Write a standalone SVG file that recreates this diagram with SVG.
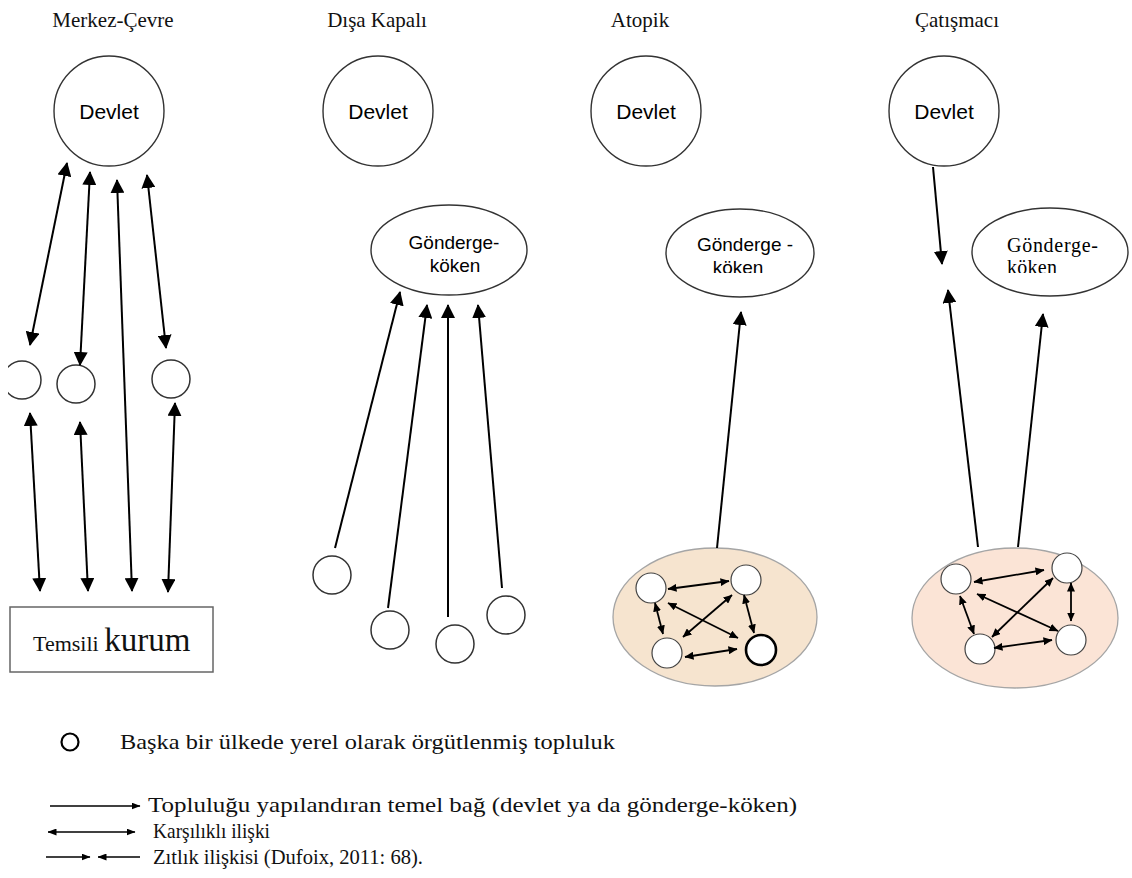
<svg xmlns="http://www.w3.org/2000/svg" width="1132" height="878" viewBox="0 0 1132 878">
<style>
.title{font-family:"Liberation Serif",serif;font-size:21px;fill:#111;text-anchor:middle}
.dev{font-family:"Liberation Sans",Arial,sans-serif;font-size:21px;fill:#000;text-anchor:middle}
.gk{font-family:"Liberation Sans",Arial,sans-serif;font-size:19px;fill:#000;text-anchor:middle}
.gks{font-family:"Liberation Serif",serif;font-size:20px;fill:#000}
.leg{font-family:"Liberation Serif",serif;font-size:21px;fill:#111}
.node{fill:#fff;stroke:#333;stroke-width:1.4}
.sn{fill:#fff;stroke:#333;stroke-width:1.5}
.cn{fill:#fff;stroke:#444;stroke-width:1.2}
.big{stroke:#000;stroke-width:2;fill:none}
.sm{stroke:#000;stroke-width:1.8;fill:none}
.lg{stroke:#000;stroke-width:1.6;fill:none}
</style>
<defs>
<marker id="ah" viewBox="0 0 14 14" refX="13" refY="7" markerWidth="14" markerHeight="14" markerUnits="userSpaceOnUse" orient="auto-start-reverse"><path d="M0,0 L14,7 L0,14 z" fill="#000"/></marker>
<marker id="as" viewBox="0 0 9 8" refX="8.5" refY="4" markerWidth="9" markerHeight="8" markerUnits="userSpaceOnUse" orient="auto-start-reverse"><path d="M0,0 L9,4 L0,8 z" fill="#000"/></marker>
<marker id="al" viewBox="0 0 9 7" refX="8.5" refY="3.5" markerWidth="9" markerHeight="7" markerUnits="userSpaceOnUse" orient="auto-start-reverse"><path d="M0,0 L9,3.5 L0,7 z" fill="#000"/></marker>
<clipPath id="clipL"><rect x="8" y="340" width="60" height="80"/></clipPath>
<clipPath id="clipT2"><rect x="370" y="200" width="160" height="72"/></clipPath>
<clipPath id="clipT3"><rect x="660" y="200" width="170" height="73"/></clipPath>
<clipPath id="clipT4"><rect x="970" y="200" width="160" height="73"/></clipPath>
</defs>

<g id="titles">
<text class="title" x="113" y="27">Merkez-Çevre</text>
<text class="title" x="377" y="27">Dışa Kapalı</text>
<text class="title" x="640" y="27">Atopik</text>
<text class="title" x="957" y="27">Çatışmacı</text>
</g>

<g id="devlet1"><circle class="node" cx="109" cy="111" r="55"/><text class="dev" x="109" y="119">Devlet</text></g>
<g id="devlet2"><circle class="node" cx="378" cy="111" r="55"/><text class="dev" x="378" y="119">Devlet</text></g>
<g id="devlet3"><circle class="node" cx="646" cy="111" r="55"/><text class="dev" x="646" y="119">Devlet</text></g>
<g id="devlet4"><circle class="node" cx="944" cy="111" r="55"/><text class="dev" x="944" y="119">Devlet</text></g>

<g id="gonderge2"><ellipse class="node" cx="449" cy="250" rx="78" ry="45"/>
<g clip-path="url(#clipT2)"><text class="gk" x="454" y="249">Gönderge-</text><text class="gk" x="455" y="272">köken</text></g></g>
<g id="gonderge3"><ellipse class="node" cx="740" cy="253" rx="74" ry="44"/>
<g clip-path="url(#clipT3)"><text class="gk" x="745" y="251">Gönderge -</text><text class="gk" x="738" y="274">köken</text></g></g>
<g id="gonderge4"><ellipse class="node" cx="1050" cy="252" rx="78" ry="44"/>
<g clip-path="url(#clipT4)"><text class="gks" x="1007" y="252" textLength="91">Gönderge-</text><text class="gks" x="1007" y="274" textLength="50">köken</text></g></g>

<g id="merkez-nodes">
<circle class="sn" cx="22" cy="380" r="19" clip-path="url(#clipL)"/>
<circle class="sn" cx="76" cy="384" r="19"/>
<circle class="sn" cx="171" cy="379" r="19"/>
</g>
<g id="temsili">
<rect x="10" y="607" width="203" height="65" fill="#fff" stroke="#666" stroke-width="1.5"/>
<text x="33" y="651" font-family="Liberation Serif,serif" fill="#111"><tspan font-size="22">Temsili </tspan><tspan font-size="33">kurum</tspan></text>
</g>

<g id="disa-nodes">
<circle class="sn" cx="332" cy="575" r="19"/>
<circle class="sn" cx="390" cy="630" r="19"/>
<circle class="sn" cx="455" cy="644" r="19"/>
<circle class="sn" cx="506" cy="615" r="19"/>
</g>

<g id="atopik-cluster">
<ellipse cx="715" cy="617" rx="102" ry="69" fill="#f6e4cf" stroke="#a5a5a5" stroke-width="1.3"/>
<circle class="cn" cx="651" cy="588" r="15"/>
<circle class="cn" cx="746" cy="580" r="15"/>
<circle class="cn" cx="667" cy="653" r="15"/>
<circle cx="761" cy="650" r="15" fill="#fff" stroke="#000" stroke-width="2.6"/>
</g>

<g id="catis-cluster">
<ellipse cx="1015" cy="618" rx="103" ry="70" fill="#fbe4d6" stroke="#a5a5a5" stroke-width="1.3"/>
<circle class="cn" cx="956" cy="579" r="15"/>
<circle class="cn" cx="1067" cy="568" r="15"/>
<circle class="cn" cx="980" cy="649" r="15"/>
<circle class="cn" cx="1071" cy="640" r="15"/>
</g>

<g id="connectors">
<line class="big" x1="67" y1="163" x2="30" y2="345" marker-start="url(#ah)" marker-end="url(#ah)"/>
<line class="big" x1="90" y1="172" x2="80" y2="365" marker-start="url(#ah)" marker-end="url(#ah)"/>
<line class="big" x1="117" y1="180" x2="132" y2="591" marker-start="url(#ah)" marker-end="url(#ah)"/>
<line class="big" x1="147" y1="175" x2="166" y2="348" marker-start="url(#ah)" marker-end="url(#ah)"/>
<line class="big" x1="30" y1="413" x2="40" y2="591" marker-start="url(#ah)" marker-end="url(#ah)"/>
<line class="big" x1="80" y1="422" x2="88" y2="591" marker-start="url(#ah)" marker-end="url(#ah)"/>
<line class="big" x1="175" y1="403" x2="168" y2="592" marker-start="url(#ah)" marker-end="url(#ah)"/>
<line class="big" x1="335" y1="548" x2="400" y2="292" marker-end="url(#ah)"/>
<line class="big" x1="388" y1="608" x2="427" y2="305" marker-end="url(#ah)"/>
<line class="big" x1="448" y1="617" x2="448" y2="305" marker-end="url(#ah)"/>
<line class="big" x1="502" y1="588" x2="478" y2="305" marker-end="url(#ah)"/>
<line class="big" x1="717" y1="548" x2="741" y2="312" marker-end="url(#ah)"/>
<line class="sm" x1="668" y1="589" x2="729" y2="581" marker-start="url(#as)" marker-end="url(#as)"/>
<line class="sm" x1="655" y1="603" x2="663" y2="634" marker-start="url(#as)" marker-end="url(#as)"/>
<line class="sm" x1="744" y1="595" x2="754" y2="633" marker-start="url(#as)" marker-end="url(#as)"/>
<line class="sm" x1="685" y1="657" x2="737" y2="649" marker-start="url(#as)" marker-end="url(#as)"/>
<line class="sm" x1="668" y1="603" x2="738" y2="638" marker-start="url(#as)" marker-end="url(#as)"/>
<line class="sm" x1="732" y1="595" x2="683" y2="637" marker-start="url(#as)" marker-end="url(#as)"/>
<line class="big" x1="933" y1="167" x2="942" y2="264" marker-end="url(#ah)"/>
<line class="big" x1="978" y1="547" x2="948" y2="290" marker-end="url(#ah)"/>
<line class="big" x1="1018" y1="547" x2="1043" y2="314" marker-end="url(#ah)"/>
<line class="sm" x1="974" y1="582" x2="1044" y2="570" marker-start="url(#as)" marker-end="url(#as)"/>
<line class="sm" x1="960" y1="596" x2="974" y2="634" marker-start="url(#as)" marker-end="url(#as)"/>
<line class="sm" x1="1071" y1="583" x2="1071" y2="621" marker-start="url(#as)" marker-end="url(#as)"/>
<line class="sm" x1="994" y1="648" x2="1052" y2="640" marker-start="url(#as)" marker-end="url(#as)"/>
<line class="sm" x1="977" y1="594" x2="1058" y2="631" marker-start="url(#as)" marker-end="url(#as)"/>
<line class="sm" x1="1053" y1="578" x2="992" y2="637" marker-start="url(#as)" marker-end="url(#as)"/>
</g>

<g id="legend">
<circle cx="70" cy="742" r="8.5" fill="#fff" stroke="#000" stroke-width="2.2"/>
<text class="leg" x="120" y="749" textLength="495" lengthAdjust="spacingAndGlyphs">Başka bir ülkede yerel olarak örgütlenmiş topluluk</text>
<line class="lg" x1="50" y1="806" x2="140" y2="806" marker-end="url(#al)"/>
<text class="leg" x="148" y="812" textLength="649" lengthAdjust="spacingAndGlyphs">Topluluğu yapılandıran temel bağ (devlet ya da gönderge-köken)</text>
<line class="lg" x1="48" y1="832" x2="135" y2="832" marker-start="url(#al)" marker-end="url(#al)"/>
<text class="leg" x="153" y="838" textLength="117" lengthAdjust="spacingAndGlyphs">Karşılıklı ilişki</text>
<line class="lg" x1="46" y1="857" x2="90" y2="857" marker-end="url(#al)"/>
<line class="lg" x1="140" y1="857" x2="98" y2="857" marker-end="url(#al)"/>
<text class="leg" x="153" y="864" textLength="270" lengthAdjust="spacingAndGlyphs">Zıtlık ilişkisi (Dufoix, 2011: 68).</text>
</g>
</svg>
